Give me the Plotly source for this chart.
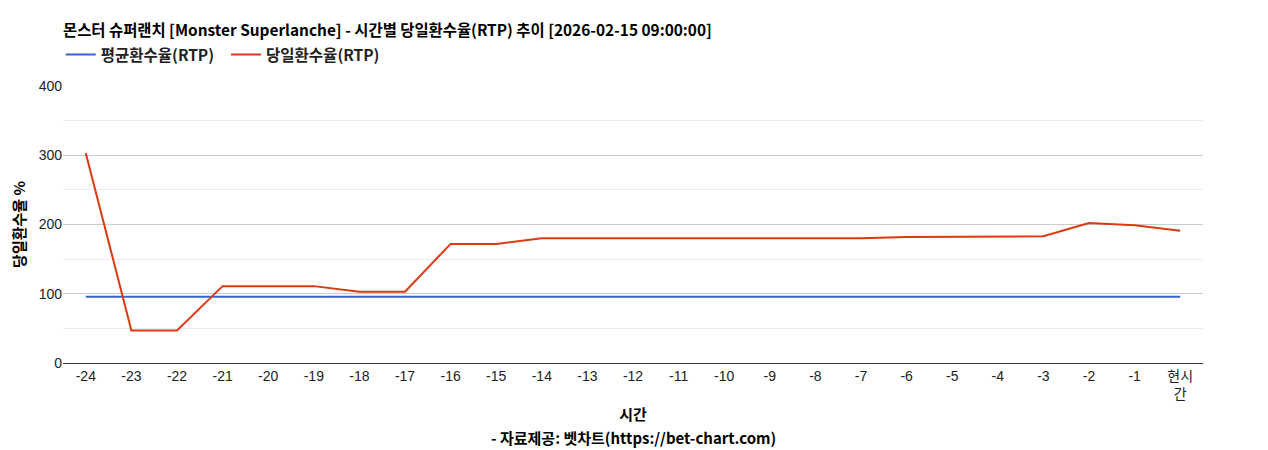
import plotly.graph_objects as go

# 시간 구간 (24시간 전 ~ 현시간)
hours = [str(h) for h in range(-24, 0)] + ["현시<br>간"]

# 평균환수율 / 당일환수율 (%)
avg_rtp = [95.5] * 25
daily_rtp = [303, 47, 47, 111, 111, 111, 103, 103, 172, 172, 180, 180, 180,
             180, 180, 180, 180, 180, 182, 182, 182, 183, 202, 199, 191]

title_text = "몬스터 슈퍼랜치 [Monster Superlanche] - 시간별 당일환수율(RTP) 추이 [2026-02-15 09:00:00]"
source_text = "- 자료제공: 벳차트(https://bet-chart.com)"
kr_font = "Noto Sans CJK KR"

fig = go.Figure()
fig.add_trace(go.Scatter(x=hours, y=avg_rtp, name="평균환수율(RTP)&nbsp;&nbsp;", mode="lines",
                         line=dict(color="#3366cc", width=2)))
fig.add_trace(go.Scatter(x=hours, y=daily_rtp, name="당일환수율(RTP)", mode="lines",
                         line=dict(color="#dc3912", width=2)))

# 페이지 기본 여백(8px) 보정
fig.update_layout(
    width=1268, height=450,
    margin=dict(l=55, r=73, t=78, b=95, autoexpand=False),
    paper_bgcolor="white", plot_bgcolor="white",
    font=dict(family="Liberation Sans, Arial", size=14, color="#222"),
    title=dict(text=title_text, x=55 / 1268, xanchor="left", y=1 - 23 / 450, yanchor="middle",
               font=dict(family=kr_font, size=15.4, color="#000", weight="bold")),
    legend=dict(orientation="h", x=-0.002, xanchor="left", y=(363 - 55) / 277, yanchor="middle",
                font=dict(family=kr_font, size=15.5, color="#222", weight="bold"),
                itemwidth=30, tracegroupgap=0),
    showlegend=True,
    hovermode="x unified",
)
fig.add_annotation(text=source_text, xref="paper", yref="paper", x=0.5, y=0,
                   yshift=-74, showarrow=False, yanchor="middle",
                   font=dict(family=kr_font, size=15, color="#000", weight="bold"))
fig.update_xaxes(type="category", range=[-0.5, 24.5], showgrid=False, ticks="", showline=True,
                 linecolor="#333", linewidth=1, automargin=False,
                 tickfont=dict(family="Liberation Sans, " + kr_font, size=14, color="#222"),
                 title=dict(text="시간", standoff=8,
                            font=dict(family=kr_font, size=15, color="#000", weight="bold")))
fig.update_yaxes(range=[0, 400], dtick=100, gridcolor="#cccccc", gridwidth=1,
                 zeroline=False, automargin=False,
                 minor=dict(dtick=50, showgrid=True, gridcolor="#ebebeb", gridwidth=1),
                 tickfont=dict(size=14, color="#222"),
                 title=dict(text="당일환수율 %", standoff=13,
                            font=dict(family=kr_font, size=15, color="#000", weight="bold")))

fig.write_html("out.html")
